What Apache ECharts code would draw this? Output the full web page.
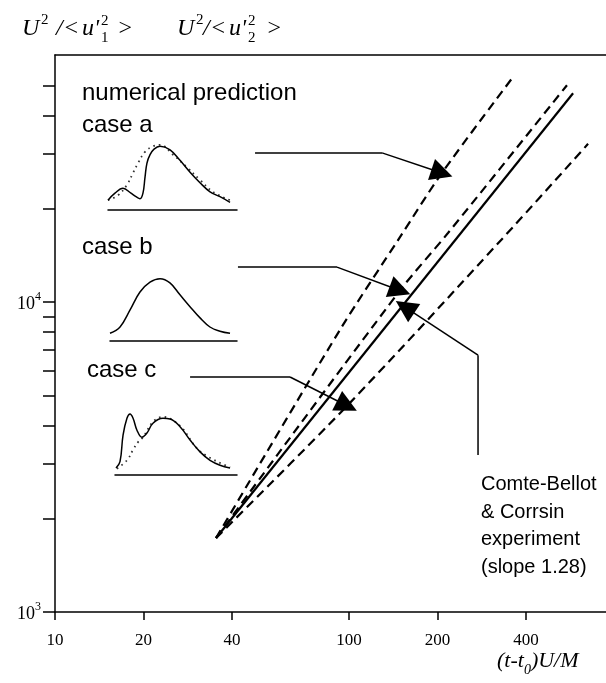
<!DOCTYPE html>
<html><head><meta charset="utf-8">
<script src="https://cdn.jsdelivr.net/npm/echarts@6/dist/echarts.min.js"></script>
<style>html,body{margin:0;padding:0;background:#fff}#c{width:606px;height:683px}</style>
</head><body><div id="c"></div>
<script>
// ---- main axes ----
const xTicks = [10, 20, 40, 100, 200, 400];
const yTicks = [1000,2000,3000,4000,5000,6000,7000,8000,9000,10000,20000,30000,40000,50000];
const yLabels = [1000, 10000];

// ---- main curves: [(t-t0)U/M, U^2/<u'^2>] ----
const experiment = [[35.3,1733],[578,47200]];
const predA = [[35.3,1733],[93.1,8130],[149,16200],[207,26100],[361,53200]];
const predB = [[35.3,1733],[149,10900],[217,16700],[551,50100]];
const predC = [[35.3,1733],[99.2,4660],[331,15960],[650,32400]];

// ---- annotation arrows (data coordinates) ----
const arrowA = [[47.9,30300],[129.5,30300],[207,26100]];
const arrowB = [[41.9,12970],[91,12970],[149,10900]];
const arrowC = [[28.8,5730],[63,5730],[98.4,4630]];
const arrowExp = [[274.6,3210],[274.6,6740],[155,9640]];

// ---- inset spectra (normalised 0..100) ----
const insetASolid = [[0,14],[5.4,24],[11.6,31],[17.8,24],[21.7,19],[24.8,16],[27.1,24],[28.7,47],[30.2,67],[32.6,79],[35.7,87],[40.3,91],[48.1,86],[55.8,71],[63.6,54],[71.3,39],[79.1,26],[86.8,19],[94.6,11]];
const insetADotted = [[0,14],[7.8,21],[14.7,36],[19.4,53],[23.3,67],[28.7,83],[34.9,91],[40.3,93],[50.4,79],[61.2,61],[71.3,43],[81.4,26],[94.6,14]];
const insetB = [[0,11],[7.9,20],[15.7,44],[23.6,70],[31.5,84],[39.4,89],[47.2,83],[55.1,66],[63,49],[70.9,33],[78.7,20],[86.6,14],[94.5,11]];
const insetCSolid = [[0.8,10],[4.1,19],[6.6,57],[9.8,81],[12.3,87],[14.8,81],[18,64],[22.1,54],[26.2,60],[31.1,74],[39.3,81],[45.1,80],[53.3,69],[61.5,50],[69.7,33],[77.9,21],[86.1,14],[94.3,10]];
const insetCDotted = [[1.6,9],[9.8,21],[14.8,36],[18.9,47],[23,54],[31.1,76],[39.3,83],[53.3,70],[69.7,34],[94.3,11]];

const K = '#000';
const serif = '"Liberation Serif","Times New Roman",serif';
const sans = '"Liberation Sans",Arial,sans-serif';
const chart = echarts.init(document.getElementById('c'), null, {renderer:'canvas'});

function insetAxes(i){
  return {
    x: {type:'value', gridIndex:i, min:0, max:100, axisLine:{show:true, onZero:false, lineStyle:{color:K, width:1.5}}, axisTick:{show:false}, axisLabel:{show:false}, splitLine:{show:false}},
    y: {type:'value', gridIndex:i, min:0, max:100, show:false}
  };
}
const ia = insetAxes(1), ib = insetAxes(2), ic = insetAxes(3);

function mainLine(data, dashed){
  return {type:'line', xAxisIndex:0, yAxisIndex:0, data:data, showSymbol:false, smooth:dashed?0.3:false, silent:true,
    lineStyle:{color:K, width:2.2, type: dashed ? [9,5.5] : 'solid'}};
}
const arrows = [arrowA, arrowB, arrowC, arrowExp];
const arrowBody = {type:'lines', coordinateSystem:'cartesian2d', xAxisIndex:0, yAxisIndex:0, polyline:true, silent:true,
  symbol:'none', lineStyle:{color:K, width:1.5, opacity:1},
  data: arrows.map(function(a){return {coords:a.slice(0, a.length-1)};})};
const arrowHeads = {type:'lines', coordinateSystem:'cartesian2d', xAxisIndex:0, yAxisIndex:0, polyline:false, silent:true,
  symbol:['none','triangle'], symbolSize:[12,22], lineStyle:{color:K, width:1.5, opacity:1, curveness:0},
  data: arrows.map(function(a){return {coords:a.slice(a.length-2)};})};

function insetLine(data, xi, dotted){
  return {type:'line', xAxisIndex:xi, yAxisIndex:xi, data:data, showSymbol:false, smooth:0.4, silent:true,
    lineStyle:{color: dotted ? '#333' : K, width: dotted ? 1.8 : 1.5, type: dotted ? [1.6,4] : 'solid'}};
}
function t(x, y, text, font){
  return {type:'text', x:x, y:y, style:{text:text, font:font, fill:K, verticalAlign:'middle'}};
}
const iF = 'italic 24px ' + serif, sF = '15px ' + serif;

const option = {
  animation:false,
  backgroundColor:'#fff',
  grid:[
    {left:55, top:55, right:0, bottom:71},
    {left:108, top:140, width:129, height:70},
    {left:110, top:271, width:127, height:70},
    {left:115, top:405, width:122, height:70}
  ],
  xAxis:[
    {type:'log', logBase:10, gridIndex:0, min:10, max:748, position:'bottom',
      axisLine:{show:true, lineStyle:{color:K, width:1.5}},
      axisTick:{show:true, customValues:xTicks, length:8, lineStyle:{color:K, width:1.5}},
      axisLabel:{show:true, customValues:xTicks, margin:20, color:K, fontFamily:serif, fontSize:17,
        formatter:function(v){return String(Math.round(v));}},
      splitLine:{show:false}, minorTick:{show:false}},
    {type:'log', logBase:10, gridIndex:0, min:10, max:748, position:'top',
      axisLine:{show:true, lineStyle:{color:K, width:1.5}}, axisTick:{show:false}, axisLabel:{show:false}, splitLine:{show:false}},
    ia.x, ib.x, ic.x
  ],
  yAxis:[
    {type:'log', logBase:10, gridIndex:0, min:1000, max:62700,
      axisLine:{show:true, lineStyle:{color:K, width:1.5}},
      axisTick:{show:true, customValues:yTicks, length:12, lineStyle:{color:K, width:1.5}},
      axisLabel:{show:true, customValues:yLabels, margin:14, color:K,
        formatter:function(v){return '{b|10}{s|' + Math.round(Math.log10(v)) + '}';},
        rich:{b:{fontFamily:serif, fontSize:18, lineHeight:23, verticalAlign:'bottom', color:K},
              s:{fontFamily:serif, fontSize:12, lineHeight:12, verticalAlign:'top', color:K}}},
      splitLine:{show:false}, minorTick:{show:false}},
    {type:'value', gridIndex:0, show:false},
    ia.y, ib.y, ic.y
  ],
  series:[
    mainLine(experiment, false),
    mainLine(predA, true),
    mainLine(predB, true),
    mainLine(predC, true),
    arrowBody, arrowHeads,
    insetLine(insetADotted, 2, true), insetLine(insetASolid, 2, false),
    insetLine(insetB, 3, false),
    insetLine(insetCDotted, 4, true), insetLine(insetCSolid, 4, false)
  ],
  graphic:[
    // U^2/<u'_1^2>
    t(22, 29, 'U', iF), t(41, 20, '2', sF), t(56, 29, '/', iF), t(63, 29, '<', iF), t(82, 29, "u'", iF),
    t(101, 21, '2', sF), t(101, 38, '1', sF), t(117, 29, '>', iF),
    // U^2/<u'_2^2>
    t(177, 29, 'U', iF), t(196, 20, '2', sF), t(203, 29, '/', iF), t(210, 29, '<', iF), t(229, 29, "u'", iF),
    t(248, 21, '2', sF), t(248, 38, '2', sF), t(266, 29, '>', iF),
    // x-axis quantity
    {type:'text', x:497, y:664, style:{text:'{i|(t-t}{u|0}{i|)U/M}', verticalAlign:'middle',
      rich:{i:{fontFamily:serif, fontStyle:'italic', fontSize:22, lineHeight:27, verticalAlign:'top', fill:K},
            u:{fontFamily:serif, fontStyle:'italic', fontSize:14, lineHeight:14, verticalAlign:'bottom', fill:K}}}},
    // annotations
    t(82, 93, 'numerical prediction', '24px ' + sans),
    t(82, 125, 'case a', '24px ' + sans),
    t(82, 247, 'case b', '24px ' + sans),
    t(87, 370, 'case c', '24px ' + sans),
    {type:'text', x:481, y:471, style:{text:'Comte-Bellot\n& Corrsin\nexperiment\n(slope 1.28)', font:'20px ' + sans, lineHeight:27.5, fill:K, verticalAlign:'top'}}
  ]
};
chart.setOption(option);
</script>
</body></html>
